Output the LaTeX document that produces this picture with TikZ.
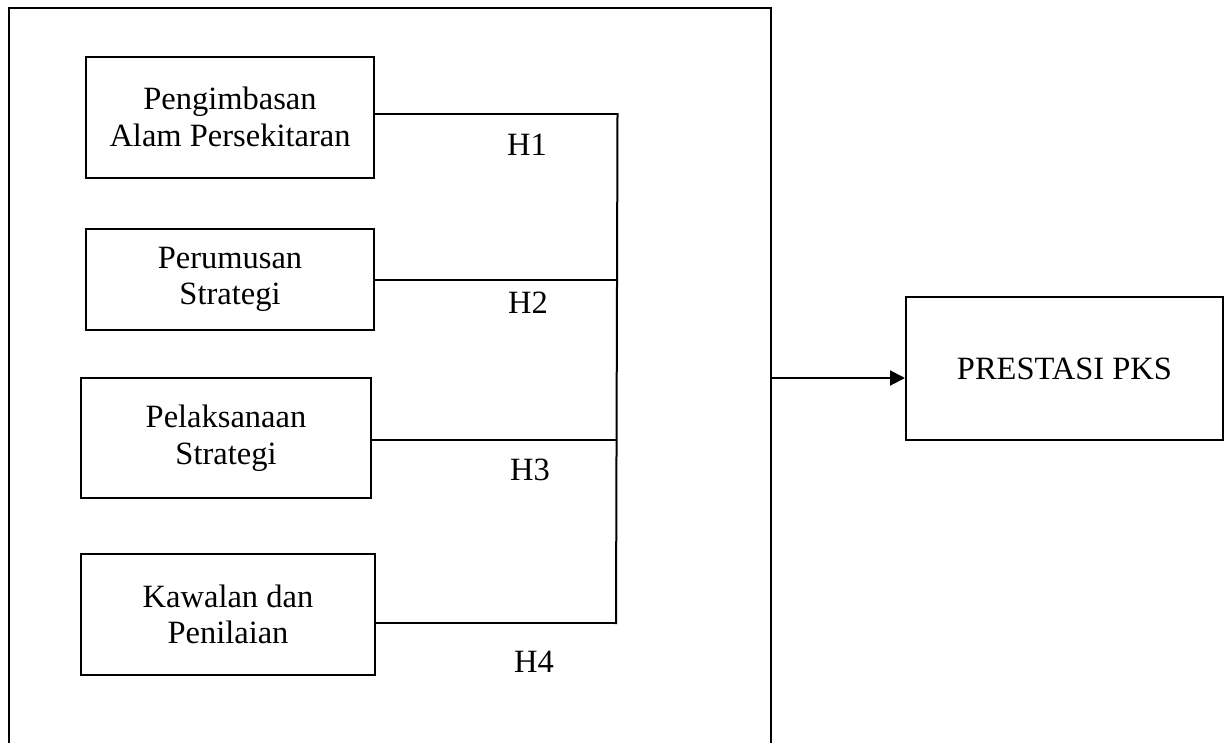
\documentclass[tikz,border=0pt]{standalone}
\usepackage{fontspec}
\setmainfont{Liberation Serif}
\usetikzlibrary{arrows.meta}
\begin{document}
\begin{tikzpicture}[x=1pt,y=-1pt,
  box/.style={draw,line width=2pt,inner sep=0pt,align=center,
    font=\fontsize{32.5}{36.7}\selectfont},
  lbl/.style={inner sep=0pt,anchor=base,font=\fontsize{32.5}{36.7}\selectfont},
  conn/.style={line width=2pt},
  arr/.style={line width=2pt,-{Triangle[length=15pt,width=15pt]}}]
\useasboundingbox (0,0) rectangle (1225,742);
% frame
\draw[line width=2pt] (9,745) -- (9,7.5) -- (770.5,7.5) -- (770.5,745);
\coordinate (fr) at (770.5,378);
% input boxes
\node[box,minimum width=288pt,minimum height=121pt] (b1) at (230,117) {Pengimbasan\\Alam Persekitaran};
\node[box,minimum width=288pt,minimum height=101pt] (b2) at (230,279.5) {Perumusan\\Strategi};
\node[box,minimum width=290pt,minimum height=120pt] (b3) at (226,438) {Pelaksanaan\\Strategi};
\node[box,minimum width=294pt,minimum height=121pt] (b4) at (228,614.5) {Kawalan dan\\Penilaian};
% output box
\node[box,minimum width=317pt,minimum height=143pt] (out) at (1064.5,368.5) {PRESTASI PKS};
% bus
\coordinate (j1) at (617.5,114);
\coordinate (j2) at (617,280);
\coordinate (j3) at (616.5,440);
\coordinate (j4) at (616,623);
\draw[conn] (b1.east |- j1) -- (j1);
\draw[conn] (b2.east |- j2) -- (j2);
\draw[conn] (b3.east |- j3) -- (j3);
\draw[conn] (b4.east |- j4) -- (j4);
\draw[conn,line cap=rect] (j1) -- (j4);
% labels
\node[lbl] (h1) at (527,155) {H1};
\node[lbl] (h2) at (528,313) {H2};
\node[lbl] (h3) at (530,480) {H3};
\node[lbl] (h4) at (534,672) {H4};
% arrow
\draw[arr] (fr) -- (out.west |- fr);
\end{tikzpicture}
\end{document}
